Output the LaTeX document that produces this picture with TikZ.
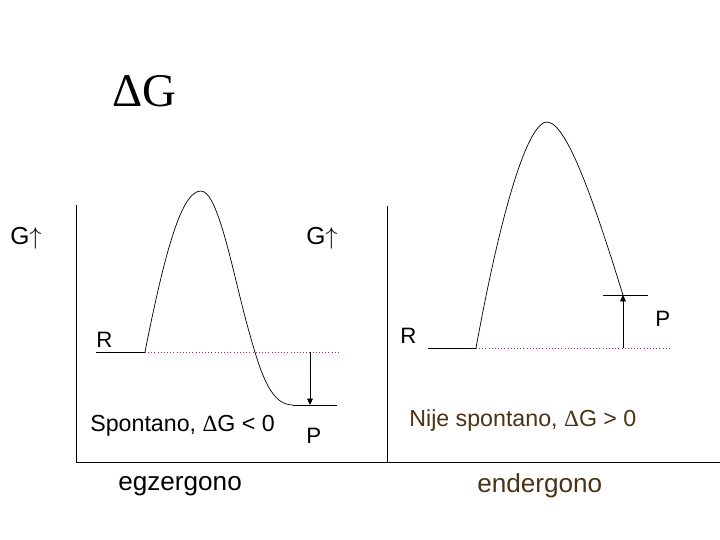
\documentclass[tikz,border=0pt]{standalone}
\usepackage{fontspec}
\setmainfont{Liberation Sans}
\newfontfamily\titlefont{Liberation Serif}
\usetikzlibrary{arrows.meta}
\definecolor{dotline}{RGB}{153,51,102}
\definecolor{textbrown}{RGB}{75,50,20}

\begin{document}
\begin{tikzpicture}[
    x=0.03cm, y=-0.03cm,
    line width=0.6pt,
    level/.style={draw=black},
    ref line/.style={draw=dotline, dotted, line width=0.7pt},
    dg arrow/.style={-{Triangle[length=5.5pt,width=5pt]}},
    label/.style={inner sep=0pt, anchor=base west, font=\fontsize{19}{21}\selectfont},
    axis label/.style={inner sep=0pt, font=\fontsize{21}{23}\selectfont},
    note/.style={inner sep=0pt, anchor=base west, font=\fontsize{19.8}{22}\selectfont},
    kind/.style={inner sep=0pt, anchor=base west, font=\fontsize{22.3}{24}\selectfont}
  ]
  \useasboundingbox (0,0) rectangle (720,540);

  % Title
  \node[inner sep=0pt, font=\titlefont\fontsize{40}{42}\selectfont] (title) at (144,91) {ΔG};

  % Axes
  \coordinate (A-top) at (76,205);
  \coordinate (A-orig) at (76,462);
  \coordinate (B-top) at (387,206);
  \coordinate (B-orig) at (387,462);
  \coordinate (X-end) at (720,462);
  \draw (A-top) -- (A-orig) -- (X-end);
  \draw (B-top) -- (B-orig);
  \node[axis label] (G-1) at (26,238) {G$\uparrow$};
  \node[axis label] (G-2) at (322,238) {G$\uparrow$};

  % Left diagram: spontaneous
  \coordinate (L-R0) at (96,352);
  \coordinate (L-R1) at (145,352);
  \coordinate (L-Rend) at (340,352);
  \coordinate (L-P0) at (293,405);
  \coordinate (L-P1) at (337,405);
  \coordinate (L-a0) at (310,352);
  \coordinate (L-a1) at (310,405);
  \draw[level] (L-R0) -- (L-R1);
  \draw[ref line] (L-R1) -- (L-Rend);
  \draw (L-R1) .. controls (168,235) and (184,191) .. (201,191)
        .. controls (219,191) and (234,280) .. (250,335)
        .. controls (262,378) and (272,405) .. (L-P0);
  \draw[level] (L-P0) -- (L-P1);
  \draw[dg arrow] (L-a0) -- (L-a1);
  \node[label] (L-R) at (96,348) {R};
  \node[label] (L-P) at (306,443) {P};
  \node[note] (L-note) at (90,431) {Spontano, {\titlefont Δ}G < 0};
  \node[kind] (L-kind) at (118,490) {egzergono};

  % Right diagram: not spontaneous
  \coordinate (R-R0) at (428,348);
  \coordinate (R-R1) at (476,348);
  \coordinate (R-Rend) at (672,348);
  \coordinate (R-P0) at (603,295);
  \coordinate (R-Ptop) at (623,295);
  \coordinate (R-P1) at (648,295);
  \coordinate (R-a0) at (623,348);
  \draw[level] (R-R0) -- (R-R1);
  \draw[ref line] (R-R1) -- (R-Rend);
  \draw (R-R1) .. controls (503,200) and (529,122) .. (547,122)
        .. controls (568,122) and (598,215) .. (R-Ptop);
  \draw[level] (R-P0) -- (R-P1);
  \draw[dg arrow] (R-a0) -- (R-Ptop);
  \node[label] (R-R) at (400,344) {R};
  \node[label] (R-P) at (655,327) {P};
  \node[note, text=textbrown] (R-note) at (409,427) {Nije spontano, {\titlefont Δ}G > 0};
  \node[kind, text=textbrown] (R-kind) at (477,492) {endergono};

\end{tikzpicture}
\end{document}
